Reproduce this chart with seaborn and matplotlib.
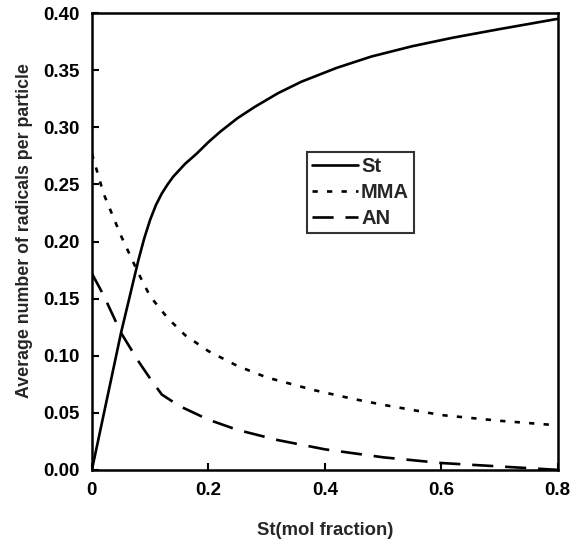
import matplotlib
matplotlib.use("Agg")
import matplotlib.pyplot as plt
import numpy as np
import pandas as pd
import seaborn as sns

# values
st_x = [0, 0.02, 0.05, 0.08, 0.09, 0.10, 0.11, 0.12, 0.13, 0.14, 0.16,
        0.18, 0.20, 0.22, 0.25, 0.28, 0.32, 0.36, 0.42, 0.48, 0.55, 0.62,
        0.70, 0.80]
st_y = [0, 0.048, 0.120, 0.184, 0.203, 0.219, 0.232, 0.242, 0.250, 0.257,
        0.268, 0.277, 0.287, 0.296, 0.308, 0.318, 0.330, 0.340, 0.352,
        0.362, 0.371, 0.3785, 0.386, 0.395]

mma_x = [0, 0.02, 0.05, 0.08, 0.10, 0.13, 0.16, 0.20, 0.25, 0.30, 0.38,
         0.45, 0.50, 0.60, 0.70, 0.80]
mma_y = [0.277, 0.242, 0.205, 0.172, 0.152, 0.133, 0.118, 0.104, 0.091,
         0.081, 0.070, 0.062, 0.057, 0.048, 0.043, 0.039]

an_x = [0, 0.02, 0.05, 0.08, 0.10, 0.12, 0.15, 0.20, 0.25, 0.32, 0.40,
        0.50, 0.60, 0.70, 0.80]
an_y = [0.172, 0.153, 0.120, 0.095, 0.080, 0.066, 0.056, 0.044, 0.035,
        0.026, 0.018, 0.011, 0.006, 0.003, 0.0]

x_ticks = [0, 0.2, 0.4, 0.6, 0.8]
x_tick_labels = ["0", "0.2", "0.4", "0.6", "0.8"]
y_ticks = [0.00, 0.05, 0.10, 0.15, 0.20, 0.25, 0.30, 0.35, 0.40]

sns.set_theme(style="ticks")
plt.rcParams["font.family"] = ["Liberation Sans", "DejaVu Sans"]
plt.rcParams["font.weight"] = "bold"

fig = plt.figure(figsize=(5.78, 5.47), dpi=100)
ax = fig.add_axes([0.159, 0.141, 0.806, 0.835])

series = [("St", st_x, st_y, "-"),
          ("MMA", mma_x, mma_y, (0, (2, 3.5))),
          ("AN", an_x, an_y, (0, (8, 4.5)))]

for name, xs, ys, ls in series:
    df = pd.DataFrame({"x": xs, "y": ys})
    sns.lineplot(data=df, x="x", y="y", ax=ax, color="black", linewidth=1.9,
                 linestyle=ls, label=name)

ax.set_xlim(0, 0.8)
ax.set_ylim(0, 0.40)
ax.set_xticks(x_ticks)
ax.set_xticklabels(x_tick_labels)
ax.set_yticks(y_ticks)
ax.set_yticklabels(["%.2f" % v for v in y_ticks])
ax.tick_params(direction="in", length=5, width=1.5, labelsize=13.5, pad=9,
               colors="black")
for s in ax.spines.values():
    s.set_linewidth(1.8)
    s.set_color("black")

ax.set_xlabel("St(mol fraction)", fontsize=13.3, fontweight="bold")
ax.set_ylabel("Average number of radicals per particle", fontsize=12.8,
              fontweight="bold")
ax.xaxis.set_label_coords(0.5, -0.115)
ax.yaxis.set_label_coords(-0.127, 0.523)

leg = ax.legend(loc="upper left", bbox_to_anchor=(0.461, 0.697),
                frameon=True, fancybox=False, handlelength=2.3,
                handletextpad=0.15, borderpad=0.25, labelspacing=0.35,
                borderaxespad=0, prop={"weight": "bold", "size": 14.5})
leg.get_frame().set_edgecolor("black")
leg.get_frame().set_linewidth(1.5)

fig.savefig("out.png", dpi=100)
